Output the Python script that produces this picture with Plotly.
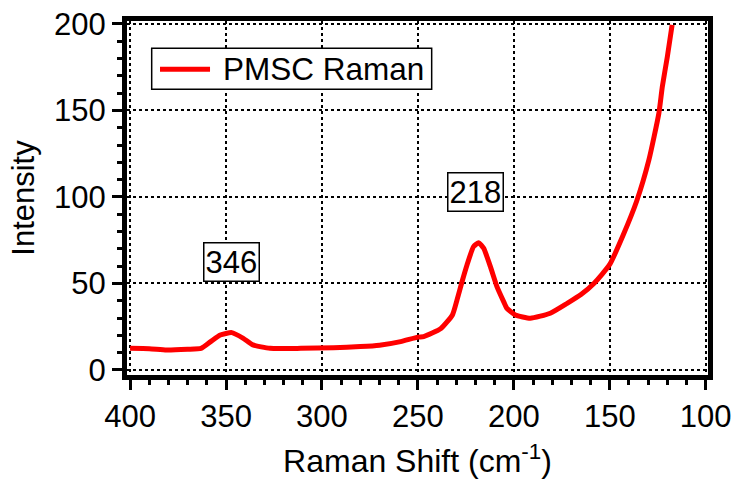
import plotly.graph_objects as go

# ---- data ----
raman_shift = [400, 390, 381, 370, 363, 358, 353, 347, 341, 336, 327, 311, 294, 280, 270,
               259, 250, 247, 238, 232, 229.6, 227, 224.4, 221, 218.3, 215.7, 212.2, 208.8,
               205.3, 203.6, 199.2, 191.4, 181, 172.2, 165, 158, 150, 143,
               136, 129.6, 124.4, 122.6, 120, 117.5]
intensity = [12.5, 12.3, 11.6, 12.0, 12.5, 16.4, 20.2, 21.6, 18.3, 14.5, 12.5, 12.5, 12.9,
             13.5, 14.3, 16.4, 19.0, 19.3, 24.0, 31.8, 40.5, 51.0, 60.7, 71.3, 73.6, 70.3,
             59.7, 48.2, 39.5, 35.6, 31.8, 29.9, 32.8, 38.5, 43.6, 50.3, 61.0, 78.0,
             97.5, 121.4, 148.4, 163.8, 181.0, 199.4]

series_name = "PMSC Raman"
x_ticks = [400, 350, 300, 250, 200, 150, 100]
y_ticks = [0, 50, 100, 150, 200]

peak_labels = ["346", "218"]
peak_label_x = [347, 220]
peak_label_y = [62.4, 103]

FONT = "Arial, Liberation Sans, Helvetica, sans-serif"
RED = "#ff0000"

fig = go.Figure()
fig.add_trace(go.Scatter(
    x=raman_shift, y=intensity, mode="lines", name=series_name,
    line=dict(color=RED, width=5, shape="spline", smoothing=0.5),
    showlegend=False,
))

for lab, lx, ly in zip(peak_labels, peak_label_x, peak_label_y):
    fig.add_annotation(
        x=lx, y=ly, xref="x", yref="y", text=lab, showarrow=False,
        font=dict(family=FONT, size=31, color="black"),
        bgcolor="white", bordercolor="black", borderwidth=1.5, borderpad=1,
    )

# legend box (drawn in paper coordinates)
fig.add_shape(type="rect", xref="paper", yref="paper",
              x0=0.0425, x1=0.5244, y0=0.8071, y1=0.9229,
              line=dict(color="black", width=1.5), fillcolor="white", layer="above")
fig.add_shape(type="line", xref="paper", yref="paper",
              x0=0.0568, x1=0.1429, y0=0.8636, y1=0.8636,
              line=dict(color=RED, width=5), layer="above")
fig.add_annotation(x=0.1620, y=0.8636, xref="paper", yref="paper", text=series_name,
                   showarrow=False, xanchor="left", yanchor="middle",
                   font=dict(family=FONT, size=31.5, color="black"))

axis_common = dict(
    showline=True, linecolor="black", linewidth=5, mirror=True,
    ticks="outside", ticklen=10, tickwidth=3, tickcolor="black",
    showgrid=True, gridcolor="black", gridwidth=1.5, griddash="dot",
    zeroline=False, automargin=False,
    tickfont=dict(family=FONT, size=31, color="black"),
    minor=dict(ticks="outside", ticklen=5, tickwidth=3, tickcolor="black",
               dtick=10, showgrid=False),
)

fig.update_layout(
    width=735, height=479,
    margin=dict(l=127, r=27, t=21, b=104),
    paper_bgcolor="white", plot_bgcolor="white",
    showlegend=False,
    xaxis=dict(
        range=[401.6, 98.8], tickvals=x_ticks,
        title=dict(text="Raman Shift (cm<sup>-1</sup>)",
                   font=dict(family=FONT, size=32, color="black"), standoff=18),
        **axis_common,
    ),
    yaxis=dict(
        range=[-2.9, 201.7], tickvals=y_ticks,
        title=dict(text="Intensity",
                   font=dict(family=FONT, size=31, color="black"), standoff=12),
        **axis_common,
    ),
)

fig.write_html("out.html")
